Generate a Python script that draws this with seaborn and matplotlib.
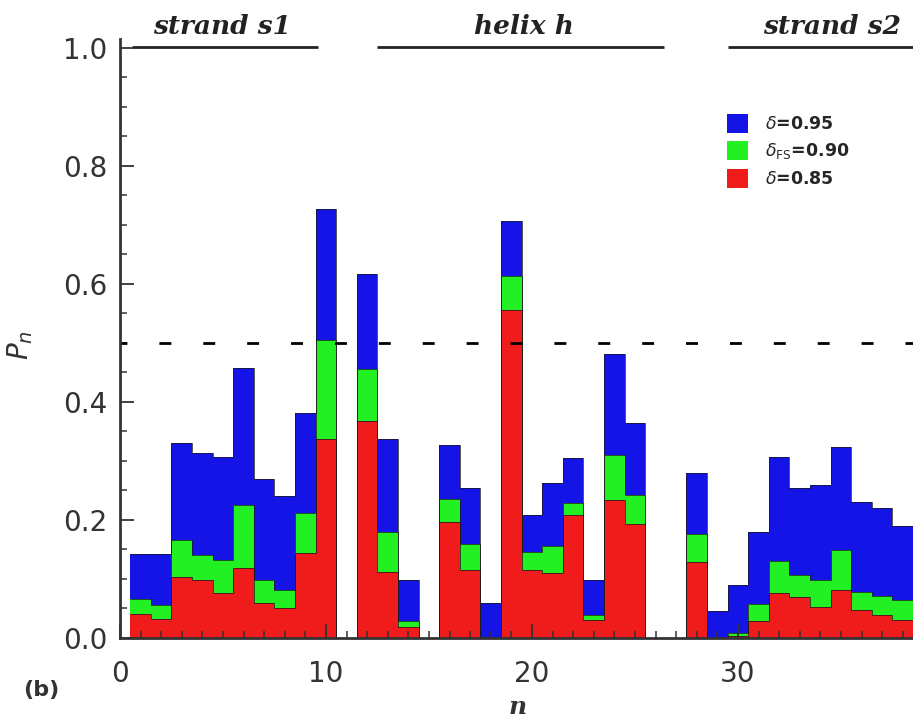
import matplotlib
matplotlib.use("Agg")
import matplotlib.pyplot as plt
from matplotlib.patches import Patch
import seaborn as sns
import pandas as pd

# residue index
n = list(range(1, 39))

# P_n for the three thresholds
p_095 = [0.142, 0.142, 0.330, 0.313, 0.306, 0.457, 0.269, 0.240, 0.381, 0.727,
         0.0, 0.617, 0.337, 0.099, 0.0, 0.327, 0.255, 0.059, 0.706, 0.208,
         0.262, 0.305, 0.099, 0.481, 0.364, 0.0, 0.0, 0.279, 0.045, 0.090,
         0.180, 0.307, 0.255, 0.259, 0.324, 0.231, 0.220, 0.190]
p_090 = [0.066, 0.056, 0.166, 0.141, 0.132, 0.225, 0.098, 0.081, 0.212, 0.505,
         0.0, 0.455, 0.180, 0.028, 0.0, 0.235, 0.159, 0.0, 0.614, 0.146,
         0.156, 0.229, 0.039, 0.310, 0.242, 0.0, 0.0, 0.177, 0.0, 0.009,
         0.058, 0.131, 0.107, 0.098, 0.149, 0.078, 0.071, 0.064]
p_085 = [0.040, 0.033, 0.104, 0.098, 0.077, 0.118, 0.059, 0.050, 0.144, 0.338,
         0.0, 0.368, 0.112, 0.019, 0.0, 0.197, 0.115, 0.0, 0.556, 0.115,
         0.110, 0.208, 0.031, 0.234, 0.194, 0.0, 0.0, 0.128, 0.0, 0.003,
         0.028, 0.077, 0.070, 0.053, 0.081, 0.047, 0.039, 0.031]

series_labels = [r"$\delta$=0.95", r"$\delta_{\mathrm{FS}}$=0.90", r"$\delta$=0.85"]
series_colors = ["#1414e6", "#22f022", "#f01c1c"]

# secondary-structure segments drawn above the panel
segment_names = ["strand s1", "helix h", "strand s2"]
segment_start = [0.6, 12.5, 29.5]
segment_end = [9.6, 26.4, 40.0]
segment_text_x = [4.95, 19.6, 31.2]
segment_text_ha = ["center", "center", "left"]

threshold = 0.5

df = pd.DataFrame({"n": n, "p095": p_095, "p090": p_090, "p085": p_085})
bin_edges = [v - 0.5 for v in n] + [n[-1] + 0.5]

sns.set_style("ticks")
plt.rcParams["font.family"] = ["DejaVu Sans"]

fig = plt.figure(figsize=(9.13, 7.21), dpi=100)
ax = fig.add_axes([120 / 913, 83 / 721, 793 / 913, 599 / 721])

# overlapping histogram-style bars, widest threshold first
for col, color in zip(["p095", "p090", "p085"], series_colors):
    sns.barplot(data=df, x="n", y=col, native_scale=True, width=1.0,
                color=color, saturation=1, linewidth=0, ax=ax, errorbar=None)
    # thin outline along the top of each filled region
    ax.stairs(df[col], bin_edges, baseline=None, color="#1a1a1a",
              linewidth=0.7, alpha=0.75, zorder=3)

ax.axhline(threshold, color="black", lw=2.0, linestyle=(1.8, (4.3, 11.5)), zorder=5)

ax.set_xlim(0, 38.5)
ax.set_ylim(0, 1.015)

ax.set_xticks([0, 10, 20, 30])
ax.set_xticks(range(0, 39), minor=True)
ax.set_yticks([0.0, 0.2, 0.4, 0.6, 0.8, 1.0])
ax.set_yticks([i * 0.05 for i in range(21)], minor=True)
ax.set_yticklabels(["0.0", "0.2", "0.4", "0.6", "0.8", "1.0"])

ax.tick_params(axis="both", which="major", direction="in", length=10, width=1.3,
               color="#333333", labelsize=20, labelcolor="#333333")
ax.tick_params(axis="both", which="minor", direction="in", length=5, width=1.1,
               color="#333333")
ax.tick_params(axis="x", which="major", pad=16)
ax.tick_params(axis="y", which="major", pad=9)
ax.set_axisbelow(False)

sns.despine(ax=ax, top=True, right=True)
for side in ["left", "bottom"]:
    ax.spines[side].set_linewidth(2.0)
    ax.spines[side].set_color("#333333")
    ax.spines[side].set_zorder(6)

ax.set_xlabel("n", fontsize=18, fontstyle="italic", fontweight="bold",
              family="DejaVu Serif", color="#333333")
ax.xaxis.set_label_coords(0.502, -0.095)
ax.set_ylabel(r"$P_n$", fontsize=20, color="#333333")
ax.yaxis.set_label_coords(-0.107, 0.489)

for name, x0, x1, tx, ha in zip(segment_names, segment_start, segment_end,
                                segment_text_x, segment_text_ha):
    ax.plot([x0, x1], [1.002, 1.002], color="#222222", lw=2.0, clip_on=False,
            solid_capstyle="butt")
    ax.text(tx, 1.024, name, ha=ha, va="baseline", fontsize=19,
            family="DejaVu Serif", fontstyle="italic", fontweight="bold",
            color="#222222", clip_on=False)

handles = [Patch(facecolor=c, edgecolor="none") for c in series_colors]
ax.legend(handles, series_labels, loc="upper left",
          bbox_to_anchor=((727 - 120) / 793, (638 - 114) / 599),
          frameon=False, prop={"size": 12.5, "weight": "bold"},
          handlelength=1.2, handleheight=1.3,
          handletextpad=1.0, labelspacing=0.45, borderpad=0, borderaxespad=0)

fig.text(41 / 913, 1 - 690 / 721, "(b)", ha="center", va="center",
         fontsize=16, fontweight="bold", color="#333333")

fig.savefig("out.png", dpi=100)
